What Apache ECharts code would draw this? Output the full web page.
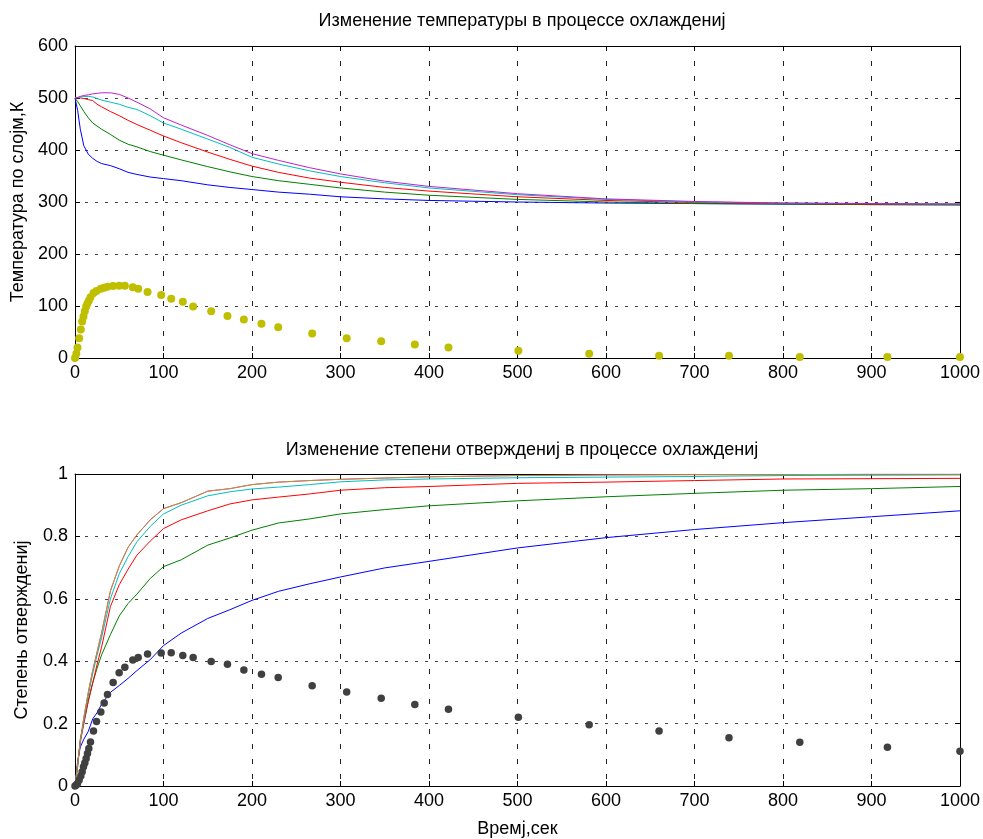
<!DOCTYPE html>
<html>
<head>
<meta charset="utf-8">
<script src="https://cdn.jsdelivr.net/npm/echarts@6/dist/echarts.min.js"></script>
<style>
  html, body { margin: 0; padding: 0; background: #fff; }
  #chart { width: 983px; height: 839px; }
</style>
</head>
<body>
<div id="chart"></div>
<script>
// Time grid (s) for the layer curves
const lineTimes = [0, 3, 6, 10, 15, 20, 25, 30, 40, 50, 60, 70, 85, 100, 120, 150, 175, 200, 230, 265, 300, 350, 400, 500, 600, 700, 800, 900, 1000];

// Layer temperatures, K
const tempBlue    = [500, 476, 440, 408, 392, 384, 378, 374, 370, 364, 357, 353, 348, 345, 341, 333, 328, 324, 319, 315, 310, 306, 303, 300, 298, 297, 296, 295, 295];
const tempGreen   = [500, 493, 485, 474, 462, 452, 446, 440, 430, 419, 411, 406, 397, 390, 381, 368, 358, 349, 341, 334, 327, 319, 313, 305, 300, 297, 296, 295, 294];
const tempRed     = [500, 500, 500, 499, 497, 495, 488, 483, 474, 466, 457, 449, 438, 427, 414, 396, 382, 369, 357, 346, 338, 328, 321, 310, 303, 299, 297, 296, 296];
const tempCyan    = [500, 501, 502, 503, 503, 502, 499, 496, 492, 488, 482, 478, 466, 452, 440, 421, 405, 386, 373, 360, 349, 337, 327, 314, 305, 300, 298, 297, 296];
const tempMagenta = [500, 501, 503, 505, 506, 508, 509, 510, 510, 507, 500, 492, 479, 462, 448, 428, 410, 393, 380, 366, 354, 340, 330, 316, 306, 301, 298, 297, 296];

// Degree of cure
const cureBlue    = [0, 0.08, 0.125, 0.15, 0.175, 0.215, 0.235, 0.262, 0.30, 0.322, 0.345, 0.37, 0.405, 0.45, 0.49, 0.537, 0.565, 0.595, 0.624, 0.648, 0.67, 0.699, 0.72, 0.763, 0.796, 0.822, 0.844, 0.863, 0.882];
const cureGreen   = [0, 0.06, 0.15, 0.205, 0.275, 0.33, 0.378, 0.42, 0.485, 0.545, 0.585, 0.615, 0.665, 0.703, 0.725, 0.772, 0.795, 0.82, 0.843, 0.856, 0.872, 0.886, 0.898, 0.914, 0.927, 0.938, 0.948, 0.953, 0.96];
const cureRed     = [0, 0.07, 0.14, 0.2, 0.27, 0.33, 0.39, 0.445, 0.575, 0.645, 0.695, 0.74, 0.785, 0.825, 0.853, 0.882, 0.904, 0.917, 0.926, 0.936, 0.948, 0.956, 0.96, 0.97, 0.974, 0.979, 0.984, 0.985, 0.986];
const cureCyan    = [0, 0.07, 0.14, 0.21, 0.29, 0.36, 0.42, 0.475, 0.60, 0.68, 0.735, 0.783, 0.832, 0.872, 0.90, 0.93, 0.943, 0.952, 0.958, 0.966, 0.975, 0.981, 0.984, 0.988, 0.99, 0.992, 0.995, 0.996, 0.997];
const cureMagenta = [0, 0.07, 0.145, 0.22, 0.30, 0.37, 0.43, 0.49, 0.625, 0.705, 0.765, 0.805, 0.853, 0.889, 0.908, 0.945, 0.953, 0.966, 0.974, 0.979, 0.983, 0.987, 0.991, 0.995, 0.997, 0.998, 0.998, 0.999, 0.999];
const cureYellow  = [0, 0.07, 0.145, 0.22, 0.30, 0.37, 0.43, 0.49, 0.625, 0.705, 0.765, 0.805, 0.853, 0.889, 0.908, 0.945, 0.953, 0.966, 0.974, 0.979, 0.983, 0.987, 0.991, 0.995, 0.997, 0.998, 0.998, 0.999, 0.999];

// Sample times for the point series
const pointTimes = [0, 1.5, 2.8, 4.7, 6.6, 8.1, 9.6, 11.1, 12.6, 14.1, 15.6, 17.5, 20.9, 24.3, 29.2, 33, 36.7, 43.1, 49.9, 56.3, 65.3, 71.4, 82, 97.4, 108.7, 121.8, 133.5, 153.9, 172.3, 190.8, 210.7, 229.6, 268, 307, 346, 384, 422, 501, 581, 660, 739, 819, 918, 1000];
// Temperature spread across layers, K
const tempSpread = [0, 8, 20, 38, 55, 70, 80, 90, 99, 105, 110, 117, 125, 129, 133, 135, 137, 138.5, 139, 139, 136, 133, 127, 121, 114, 108, 99, 90, 81, 74, 66, 59, 47, 38, 32, 26, 20, 14, 8, 4.5, 4.5, 2, 2, 2];
// Cure spread across layers
const cureSpread = [0, 0.003, 0.008, 0.019, 0.032, 0.046, 0.062, 0.074, 0.088, 0.104, 0.12, 0.141, 0.176, 0.207, 0.237, 0.266, 0.293, 0.332, 0.363, 0.381, 0.404, 0.412, 0.423, 0.426, 0.427, 0.418, 0.412, 0.399, 0.39, 0.372, 0.358, 0.348, 0.321, 0.301, 0.281, 0.261, 0.246, 0.220, 0.196, 0.176, 0.155, 0.140, 0.124, 0.111];

const xTicks = [0, 100, 200, 300, 400, 500, 600, 700, 800, 900, 1000];

const txt = {
  title1: 'Изменение температуры в процессе охлаждениј',
  title2: 'Изменение степени отверждениј в процессе охлаждениј',
  y1: 'Температура по слојм,К',
  y2: 'Степень отверждениј',
  x2: 'Времј,сек'
};

const FONT = '"Liberation Sans", Arial, sans-serif';
const FS = 18;
const pair = (xs, ys) => xs.map((x, i) => [x, ys[i]]);

function xAxisPair(gi, withName) {
  const base = {
    gridIndex: gi, type: 'value', min: xTicks[0], max: xTicks[xTicks.length - 1], interval: 100,
    axisLine: { show: true, onZero: false, lineStyle: { color: '#000', width: 1 } },
    axisTick: { show: true, inside: true, length: 5, lineStyle: { color: '#000' } }
  };
  return [
    Object.assign({}, base, {
      position: 'bottom',
      axisLabel: { color: '#000', fontSize: FS, fontFamily: FONT, margin: 6, formatter: v => String(v) },
      splitLine: { show: true, lineStyle: { color: '#222', type: [5, 10], width: 1 } },
      name: withName ? txt.x2 : '', nameLocation: 'middle', nameGap: 34,
      nameTextStyle: { color: '#000', fontSize: FS, fontFamily: FONT }
    }),
    Object.assign({}, base, { position: 'top', axisLabel: { show: false }, splitLine: { show: false } })
  ];
}

function yAxisPair(gi, min, max, interval, name, gap) {
  const base = {
    gridIndex: gi, type: 'value', min: min, max: max, interval: interval,
    axisLine: { show: true, onZero: false, lineStyle: { color: '#000', width: 1 } },
    axisTick: { show: true, inside: true, length: 5, lineStyle: { color: '#000' } }
  };
  return [
    Object.assign({}, base, {
      position: 'left',
      axisLabel: { color: '#000', fontSize: FS, fontFamily: FONT, margin: 7, formatter: v => String(v) },
      splitLine: { show: true, lineStyle: { color: '#444', type: [3, 7], width: 1 } },
      name: name, nameLocation: 'middle', nameGap: gap,
      nameTextStyle: { color: '#000', fontSize: FS, fontFamily: FONT }
    }),
    Object.assign({}, base, { position: 'right', axisLabel: { show: false }, splitLine: { show: false } })
  ];
}

function curve(xi, yi, data, color, opacity) {
  return {
    type: 'line', xAxisIndex: xi, yAxisIndex: yi, data: data,
    showSymbol: false, symbol: 'none', smooth: false,
    lineStyle: { color: color, width: 1, opacity: opacity == null ? 1 : opacity },
    silent: true, z: 3
  };
}
function dots(xi, yi, data, color, size) {
  return {
    type: 'scatter', xAxisIndex: xi, yAxisIndex: yi, data: data,
    symbol: 'circle', symbolSize: size,
    itemStyle: { color: color, opacity: 1 },
    silent: true, z: 4
  };
}

const chart = echarts.init(document.getElementById('chart'), null, { renderer: 'canvas' });
chart.setOption({
  animation: false,
  backgroundColor: '#fff',
  title: [
    { text: txt.title1, left: 517, textAlign: 'center', top: 7,
      textStyle: { fontSize: FS, fontWeight: 'normal', color: '#000', fontFamily: FONT } },
    { text: txt.title2, left: 517, textAlign: 'center', top: 436,
      textStyle: { fontSize: FS, fontWeight: 'normal', color: '#000', fontFamily: FONT } }
  ],
  grid: [
    { left: 75, top: 46, width: 885, height: 312, containLabel: false },
    { left: 75, top: 474, width: 885, height: 312, containLabel: false }
  ],
  xAxis: [].concat(xAxisPair(0, false), xAxisPair(1, true)),
  yAxis: [].concat(
    yAxisPair(0, 0, 600, 100, txt.y1, 48),
    yAxisPair(1, 0, 1, 0.2, txt.y2, 44)
  ),
  series: [
    curve(0, 0, pair(lineTimes, tempBlue), '#0000ff'),
    curve(0, 0, pair(lineTimes, tempGreen), '#008000'),
    curve(0, 0, pair(lineTimes, tempRed), '#ff0000'),
    curve(0, 0, pair(lineTimes, tempCyan), '#00bfbf'),
    curve(0, 0, pair(lineTimes, tempMagenta), '#c020d0'),
    dots(0, 0, pair(pointTimes, tempSpread), '#bfbf00', 8),

    curve(2, 2, pair(lineTimes, cureBlue), '#0000ff'),
    curve(2, 2, pair(lineTimes, cureGreen), '#008000'),
    curve(2, 2, pair(lineTimes, cureRed), '#ff0000'),
    curve(2, 2, pair(lineTimes, cureCyan), '#00bfbf'),
    curve(2, 2, pair(lineTimes, cureMagenta), '#bf00bf'),
    curve(2, 2, pair(lineTimes, cureYellow), '#bfbf00', 0.78),
    dots(2, 2, pair(pointTimes, cureSpread), '#404040', 7.5)
  ]
});
</script>
</body>
</html>
